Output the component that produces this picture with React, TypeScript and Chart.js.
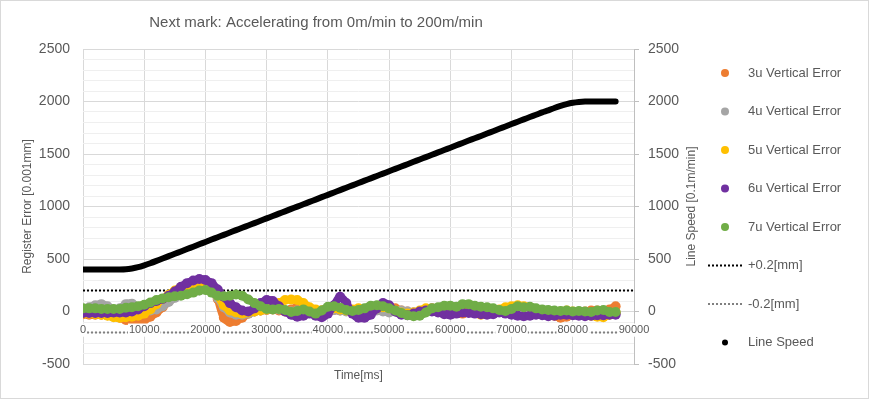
import React, { useEffect, useRef } from 'react';
import { Chart, registerables } from 'chart.js';

Chart.register(...registerables);

const FONT = "'Liberation Sans', Arial, sans-serif";
const TEXT = '#595959';

const chartTitle = 'Next mark: Accelerating from 0m/min to 200m/min';
const xAxisTitle = 'Time[ms]';
const yAxisTitle = 'Register Error [0.001mm]';
const y2AxisTitle = 'Line Speed [0.1m/min]';

const xTickValues = [0, 10000, 20000, 30000, 40000, 50000, 60000, 70000, 80000, 90000];
const yTickValues = [-500, 0, 500, 1000, 1500, 2000, 2500];

const timesMs = [
  0, 1000, 2000, 3000, 4000, 5000, 6000, 7000, 8000, 9000,
  10000, 11000, 12000, 13000, 14000, 15000, 16000, 17000, 18000, 19000,
  20000, 21000, 22000, 23000, 24000, 25000, 26000, 27000, 28000, 29000,
  30000, 31000, 32000, 33000, 34000, 35000, 36000, 37000, 38000, 39000,
  40000, 41000, 42000, 43000, 44000, 45000, 46000, 47000, 48000, 49000,
  50000, 51000, 52000, 53000, 54000, 55000, 56000, 57000, 58000, 59000,
  60000, 61000, 62000, 63000, 64000, 65000, 66000, 67000, 68000, 69000,
  70000, 71000, 72000, 73000, 74000, 75000, 76000, 77000, 78000, 79000,
  80000, 81000, 82000, 83000, 84000, 85000, 86000, 87000,
];

const err3u = [
  -25, -30, -30, -30, -35, -45, -60, -80, -100, -105,
  -80, -50, -10, 40, 100, 150, 175, 200, 240, 280,
  290, 260, 120, -60, -100, -90, -60, -20, 0, 10,
  15, 20, 10, 0, 20, 40, 30, 10, 0, 10,
  20, 15, 10, 5, 0, -10, -20, 0, 20, 30,
  40, 30, 10, 0, -10, 0, 20, 30, 20, 10,
  10, -10, -20, 10, 20, 10, 0, -10, -5, 10,
  20, 25, 10, 0, 0, -10, -20, -40, -60, -50,
  -20, -10, 0, 10, 10, 0, 20, 50,
];

const err4u = [
  10, 40, 60, 70, 50, 20, 30, 70, 75, 40,
  20, 10, 20, 50, 90, 130, 160, 175, 185, 200,
  210, 200, 130, 40, -10, -30, -30, -20, 0, 10,
  20, 30, 20, 10, 0, 10, 20, 10, -10, 0,
  10, 15, 10, 0, -10, 0, 10, 20, 10, 0,
  -10, 0, 10, 0, -10, 0, 10, 20, 10, 0,
  -10, 0, 10, 20, 10, 0, -10, 0, 10, 0,
  -10, 0, -10, -20, -10, 0, -10, -20, -10, 0,
  -10, -20, -10, -20, -30, -20, -20, -20,
];

const err5u = [
  -20, -20, -25, -30, -40, -55, -60, -55, -50, -40,
  -20, 20, 70, 120, 160, 200, 230, 240, 250, 260,
  250, 220, 150, 60, 10, -10, -20, -10, 0, 10,
  20, 40, 80, 110, 115, 110, 80, 40, 20, 10,
  20, 30, 20, 10, 20, 30, 20, 10, 30, 40,
  30, 10, -10, -20, -10, 10, 30, 20, 10, 0,
  -10, 0, 10, 20, 0, -30, -20, 0, 20, 40,
  50, 60, 50, 40, 20, 10, 0, -10, 0, 10,
  0, -20, -30, -40, -50, -55, -30, -10,
];

const err6u = [
  -15, -15, -15, -15, -15, -10, -10, -10, 0, 20,
  50, 80, 100, 120, 150, 190, 235, 270, 295, 310,
  300, 270, 210, 140, 80, 40, 10, 0, 30, 80,
  110, 100, 50, 0, -30, -50, -40, -20, -40, -55,
  -20, 60, 140, 80, -20, -60, -60, -30, 30, 80,
  60, 0, -30, -35, -20, 0, 10, 0, -10, -25,
  -30, -20, -10, -15, -20, -25, -30, -25, -10, -20,
  -30, -40, -45, -40, -30, -35, -45, -40, -30, -30,
  -35, -40, -45, -40, -35, -35, -30, -30,
];

const err7u = [
  30, 30, 30, 25, 25, 25, 25, 35, 40, 50,
  65, 85, 110, 125, 135, 145, 150, 165, 180, 200,
  205, 180, 150, 145, 150, 162, 150, 115, 80, 50,
  25, 20, 25, 15, -5, 5, 20, 0, -20, 10,
  45, 50, 35, 15, 5, 15, 30, 55, 60, 50,
  30, 10, -15, -35, -45, -40, -10, 30, 40, 55,
  55, 45, 70, 70, 55, 45, 40, 30, 15, 5,
  25, 50, 40, 45, 30, 20, 15, 10, 5, 10,
  0, 5, 0, -5, 10, 15, -5, -5,
];

const lineSpeed = [
  400, 400, 400, 400, 400, 400, 400, 402, 410, 422,
  440, 460, 482, 505, 527, 550, 572, 595, 617, 640,
  662, 685, 707, 730, 752, 775, 797, 819, 842, 864,
  887, 909, 932, 954, 977, 999, 1021, 1044, 1066, 1089,
  1111, 1134, 1156, 1179, 1201, 1224, 1246, 1268, 1291, 1313,
  1336, 1358, 1381, 1403, 1426, 1448, 1470, 1493, 1515, 1538,
  1560, 1583, 1605, 1628, 1650, 1672, 1695, 1717, 1740, 1762,
  1785, 1807, 1830, 1852, 1874, 1897, 1915, 1938, 1958, 1975,
  1988, 1996, 2000, 2000, 2000, 2000, 2000, 2000,
];

const limitTimes = [0, 90000];
const limitPlus = [200, 200];
const limitMinus = [-200, -200];

const seriesLabels = [
  '3u Vertical Error',
  '4u Vertical Error',
  '5u Vertical Error',
  '6u Vertical Error',
  '7u Vertical Error',
  '+0.2[mm]',
  '-0.2[mm]',
  'Line Speed',
];
const seriesColors = ['#ED7D31', '#A5A5A5', '#FFC000', '#7030A0', '#70AD47', '#000000', '#808080', '#000000'];

const toPoints = (xs: number[], ys: number[]) => xs.map((x, i) => ({ x, y: ys[i] }));

const errorSet = (idx: number, values: number[], order: number) => ({
  label: seriesLabels[idx],
  data: toPoints(timesMs, values),
  showLine: true,
  borderColor: seriesColors[idx],
  backgroundColor: seriesColors[idx],
  pointBackgroundColor: seriesColors[idx],
  borderWidth: 8,
  pointRadius: 5,
  pointBorderWidth: 0,
  pointHoverRadius: 0,
  tension: 0.3,
  borderCapStyle: 'round',
  borderJoinStyle: 'round',
  order,
  legendKind: 'dot',
  yAxisID: 'y',
});

const decorPlugin = {
  id: 'decor',
  beforeDraw(chart: any) {
    const { ctx, width, height } = chart;
    ctx.save();
    ctx.fillStyle = '#ffffff';
    ctx.fillRect(0, 0, width, height);
    ctx.strokeStyle = '#d9d9d9';
    ctx.lineWidth = 1;
    ctx.strokeRect(0.5, 0.5, width - 2, height - 2);
    ctx.restore();
  },
  afterDraw(chart: any) {
    const { ctx, chartArea } = chart;
    ctx.save();
    ctx.fillStyle = TEXT;
    ctx.font = `15px ${FONT}`;
    ctx.textAlign = 'center';
    ctx.textBaseline = 'middle';
    ctx.fillText(chartTitle, 316, 23);

    ctx.save();
    ctx.translate(692, (chartArea.top + chartArea.bottom) / 2);
    ctx.rotate(-Math.PI / 2);
    ctx.font = `12px ${FONT}`;
    ctx.textAlign = 'center';
    ctx.textBaseline = 'middle';
    ctx.fillText(y2AxisTitle, 0, 0);
    ctx.restore();

    const iconX = 725;
    const textX = 748;
    const startY = 73;
    const stepY = 38.5;
    chart.data.datasets.forEach((ds: any, i: number) => {
      const y = startY + i * stepY;
      const color = ds.borderColor;
      ctx.fillStyle = color;
      if (ds.legendKind === 'dot' || ds.legendKind === 'small') {
        ctx.beginPath();
        ctx.arc(iconX, y, ds.legendKind === 'dot' ? 4 : 3, 0, Math.PI * 2);
        ctx.fill();
      } else {
        for (let x = 708; x < 742; x += 4) {
          ctx.fillRect(x, y - 1, 2, 2);
        }
      }
      ctx.fillStyle = TEXT;
      ctx.font = `13px ${FONT}`;
      ctx.textAlign = 'left';
      ctx.textBaseline = 'middle';
      ctx.fillText(ds.label, textX, y);
    });
    ctx.restore();
  },
};

export default function App() {
  const canvasRef = useRef<HTMLCanvasElement>(null);

  useEffect(() => {
    if (!canvasRef.current) return;
    Chart.defaults.font.family = FONT;
    Chart.defaults.color = TEXT;

    const datasets: any[] = [
      errorSet(0, err3u, 5),
      errorSet(1, err4u, 4),
      errorSet(2, err5u, 3),
      errorSet(3, err6u, 2),
      errorSet(4, err7u, 1),
      {
        label: seriesLabels[5],
        data: toPoints(limitTimes, limitPlus),
        showLine: true,
        borderColor: seriesColors[5],
        borderWidth: 2,
        borderDash: [2, 2],
        pointRadius: 0,
        order: 6,
        legendKind: 'dash',
        yAxisID: 'y',
      },
      {
        label: seriesLabels[6],
        data: toPoints(limitTimes, limitMinus),
        showLine: true,
        borderColor: seriesColors[6],
        borderWidth: 2,
        borderDash: [2, 2],
        pointRadius: 0,
        order: 7,
        legendKind: 'dash',
        yAxisID: 'y',
      },
      {
        label: seriesLabels[7],
        data: toPoints(timesMs, lineSpeed),
        showLine: true,
        borderColor: seriesColors[7],
        backgroundColor: seriesColors[7],
        borderWidth: 6,
        pointRadius: 0,
        borderCapStyle: 'round',
        borderJoinStyle: 'round',
        tension: 0.2,
        order: 0,
        legendKind: 'small',
        yAxisID: 'y2',
      },
    ];

    const chart = new Chart(canvasRef.current, {
      type: 'scatter',
      data: { datasets },
      plugins: [decorPlugin],
      options: {
        responsive: false,
        maintainAspectRatio: false,
        animation: false,
        events: [],
        layout: { padding: { top: 49, right: 170, bottom: 0, left: 0 } },
        plugins: {
          legend: { display: false },
          title: { display: false },
          tooltip: { enabled: false },
        },
        scales: {
          x: {
            type: 'linear',
            axis: 'x',
            position: { y: 0 } as any,
            min: 0,
            max: 90000,
            ticks: {
              stepSize: 10000,
              color: TEXT,
              font: { size: 11 },
              padding: 12,
              maxRotation: 0,
              autoSkip: false,
              z: 1,
              showLabelBackdrop: true,
              backdropColor: '#ffffff',
              backdropPadding: { top: 0, bottom: 0, left: 1, right: 1 },
              callback: (v: any) => (xTickValues.includes(Number(v)) ? String(v) : ''),
            },
            grid: { color: '#d9d9d9', drawTicks: false },
            border: { display: false },
          },
          x2: {
            type: 'linear',
            axis: 'x',
            position: 'bottom',
            min: 0,
            max: 90000,
            ticks: { display: false },
            grid: { display: false, drawTicks: false },
            border: { display: false },
            title: {
              display: true,
              text: xAxisTitle,
              color: TEXT,
              font: { size: 12 },
              padding: { top: 0, bottom: 17 },
            },
            afterFit: (scale: any) => {
              scale.height = 36;
            },
          },
          y: {
            type: 'linear',
            position: 'left',
            min: -500,
            max: 2500,
            ticks: {
              stepSize: 100,
              color: TEXT,
              font: { size: 14 },
              padding: 13,
              autoSkip: false,
              callback: (v: any) => (yTickValues.includes(Number(v)) ? String(v) : ''),
            },
            grid: {
              drawTicks: false,
              color: (c: any) => (c.tick && yTickValues.includes(c.tick.value) ? '#d9d9d9' : '#efefef'),
            },
            border: { display: false },
            title: {
              display: true,
              text: yAxisTitle,
              color: TEXT,
              font: { size: 12 },
              padding: { top: 20, bottom: 0 },
            },
            afterFit: (scale: any) => {
              scale.width = 83;
            },
          },
          y2: {
            type: 'linear',
            position: 'right',
            min: -500,
            max: 2500,
            ticks: {
              stepSize: 500,
              color: TEXT,
              font: { size: 14 },
              padding: 9,
              callback: (v: any) => (yTickValues.includes(Number(v)) ? String(v) : ''),
            },
            grid: {
              drawOnChartArea: false,
              drawTicks: true,
              tickLength: 5,
              color: '#bfbfbf',
            },
            border: { display: true, color: '#bfbfbf' },
            afterFit: (scale: any) => {
              scale.width = 66;
            },
          },
        },
      } as any,
    });

    return () => {
      chart.destroy();
    };
  }, []);

  return (
    <div style={{ position: 'absolute', left: 0, top: 0, width: 870, height: 400, background: '#ffffff' }}>
      <canvas ref={canvasRef} width={870} height={400} style={{ display: 'block' }} />
    </div>
  );
}
